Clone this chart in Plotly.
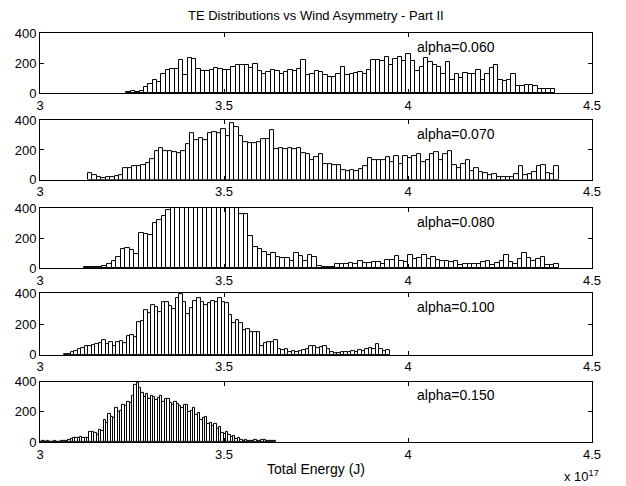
import plotly.graph_objects as go

# Histogram counts of total energy (units of 1e17 J) for each wind-asymmetry case
alphas = ["0.060", "0.070", "0.080", "0.100", "0.150"]

counts_060 = [10, 15, 10, 15, 40, 60, 90, 75, 130, 155,
              160, 160, 220, 120, 235, 225, 160, 145, 150, 155,
              170, 160, 155, 155, 175, 185, 190, 185, 170, 195,
              150, 130, 140, 155, 145, 130, 140, 155, 150, 160,
              220, 120, 130, 145, 140, 120, 110, 110, 130, 175,
              120, 125, 135, 140, 130, 155, 220, 220, 215, 240,
              185, 230, 240, 215, 260,
              215, 150, 175, 235, 205, 190, 175, 125, 205, 90,
              130, 100, 135, 130, 125, 155, 90, 130, 170, 185,
              90, 80, 85, 125, 50, 50, 55, 55, 45, 30,
              30, 30, 25]

counts_070 = [45, 30, 20, 12, 15, 20, 25, 30, 80, 80,
              90, 95, 100, 115, 140, 190, 215, 195, 195, 185,
              180, 195, 240, 310, 265, 280, 265, 315, 320, 310,
              340, 290, 380, 355, 295, 255, 245, 245, 255, 270,
              270, 335, 205, 210, 205, 210, 205, 215, 180, 175,
              135, 150, 170, 105, 105, 100, 100, 65, 60, 65,
              60, 70, 90, 145, 130, 130, 130, 150, 120, 160,
              105, 160, 145, 160, 175, 120, 135, 170, 185, 130,
              170, 190, 100, 80, 105, 130, 60, 80, 50, 45,
              30, 35, 20, 20, 15, 20, 40, 90, 30, 40,
              50, 95, 100, 45, 40, 90]

counts_080 = [10, 10, 10, 10, 12, 25, 45, 75, 125, 135,
              120, 95, 235, 225, 220, 300, 320, 345, 385, 430,
              470, 520, 560, 590, 610, 600, 580, 560, 540, 510,
              480, 455, 430, 410, 360, 360, 215, 140, 130, 110,
              85, 100, 75, 70, 70, 50, 100, 80, 45, 90,
              75, 15, 5, 5, 10, 25, 30, 25, 35, 25,
              45, 35, 35, 40, 40, 30, 55, 55, 80, 50,
              40, 90, 60, 70, 85, 60, 75, 55, 50, 45,
              40, 50, 20, 25, 30, 25, 30, 40, 50, 20,
              35, 50, 90, 40, 30, 60, 100, 70, 45, 60,
              75, 20, 20, 30]

counts_100 = [5, 8, 15, 25, 35, 45, 55, 60, 65, 70,
              75, 95, 70, 80, 60, 85, 90, 75, 120, 125,
              115, 215, 220, 290, 270, 320, 310, 275, 340, 340,
              315, 295, 370, 395, 340, 265, 305, 350, 365, 340,
              325, 335, 350, 340, 365, 340, 335, 260, 205, 225,
              205, 160, 165, 150, 150, 145, 60, 75, 80, 80,
              95, 40, 30, 40, 20, 25, 15, 25, 30, 40,
              55, 60, 45, 50, 60, 40, 20, 10, 10, 15,
              15, 20, 25, 20, 30, 25, 40, 45, 35, 70,
              35, 25, 30]

counts_150 = [3, 5, 4, 5, 3, 4, 5, 3, 4, 5, 8, 10, 12,
              20, 25, 30, 30, 35, 30, 25, 30,
              65, 70, 60, 50, 80, 75,
              150, 130, 190, 170, 160, 230, 200,
              210, 250, 240, 270, 260, 310, 380,
              395, 360, 330, 300, 320,
              290, 310, 300, 280, 295, 305, 270, 285, 290, 260,
              250, 265, 255, 240, 230, 250, 245, 200, 210, 225,
              180, 195, 150, 160, 170, 120, 130, 110, 120,
              90, 100, 60, 55, 70, 50, 35, 40,
              20, 25, 15, 10, 12, 10, 8, 10, 12, 10, 8, 12, 15, 8, 10, 5, 8]

all_counts = [counts_060, counts_070, counts_080, counts_100, counts_150]

# Lower and upper edge of the binned energy range for each case
bin_lo = [3.235, 3.13, 3.12, 3.065, 3.0]
bin_hi = [4.40, 4.41, 4.41, 3.95, 3.64]

x_ticks = [3, 3.5, 4, 4.5]
y_ticks = [0, 200, 400]

# Vertical extents of the five stacked panels (paper coordinates)
domains = [[0.853, 1.0], [0.641, 0.787], [0.425, 0.572], [0.213, 0.364], [0.0, 0.147]]

FONT = "Liberation Sans, Arial, Helvetica, sans-serif"

fig = go.Figure()
layout = {}
annotations = []

for k, (a, cnt, lo, hi, dom) in enumerate(zip(alphas, all_counts, bin_lo, bin_hi, domains)):
    n = len(cnt)
    w = (hi - lo) / n
    centers = [lo + w * (i + 0.5) for i in range(n)]
    sfx = "" if k == 0 else str(k + 1)
    fig.add_trace(go.Bar(
        x=centers, y=cnt, width=w,
        marker=dict(color="white", line=dict(color="black", width=1)),
        xaxis="x" + sfx, yaxis="y" + sfx, showlegend=False,
    ))
    axis_common = dict(
        showline=True, linecolor="black", linewidth=1, mirror="ticks",
        ticks="inside", ticklen=4, tickcolor="black", showgrid=False,
        zeroline=False, tickfont=dict(family=FONT, size=13, color="black"),
    )
    layout["xaxis" + sfx] = dict(
        axis_common, domain=[0, 1], range=[3, 4.5], tickvals=x_ticks,
        ticktext=[str(t) for t in x_ticks], anchor="y" + sfx,
    )
    layout["yaxis" + sfx] = dict(
        axis_common, domain=dom, range=[0, 400], tickvals=y_ticks,
        anchor="x" + sfx,
    )
    annotations.append(dict(
        text="alpha=" + a, x=4.02, y=310, xref="x" + sfx, yref="y" + sfx,
        xanchor="left", yanchor="middle", showarrow=False,
        font=dict(family=FONT, size=14, color="black"),
    ))

layout["xaxis5"]["title"] = dict(text="Total Energy (J)", standoff=3,
                                 font=dict(family=FONT, size=14, color="black"))

annotations.append(dict(
    text="TE Distributions vs Wind Asymmetry - Part II",
    x=0.5, y=1.0, xref="paper", yref="paper", yanchor="bottom", yshift=8,
    showarrow=False, font=dict(family=FONT, size=13, color="black"),
))
annotations.append(dict(
    text="x 10<sup>17</sup>", x=1.0, y=0, xref="paper", yref="paper",
    xanchor="left", yanchor="top", xshift=-30, yshift=-24,
    showarrow=False, font=dict(family=FONT, size=13, color="black"),
))

fig.update_layout(
    **layout,
    annotations=annotations,
    width=626, height=486,
    margin=dict(l=40, r=34, t=33, b=44),
    paper_bgcolor="white", plot_bgcolor="white",
    bargap=0,
)

fig.write_html("out.html")
